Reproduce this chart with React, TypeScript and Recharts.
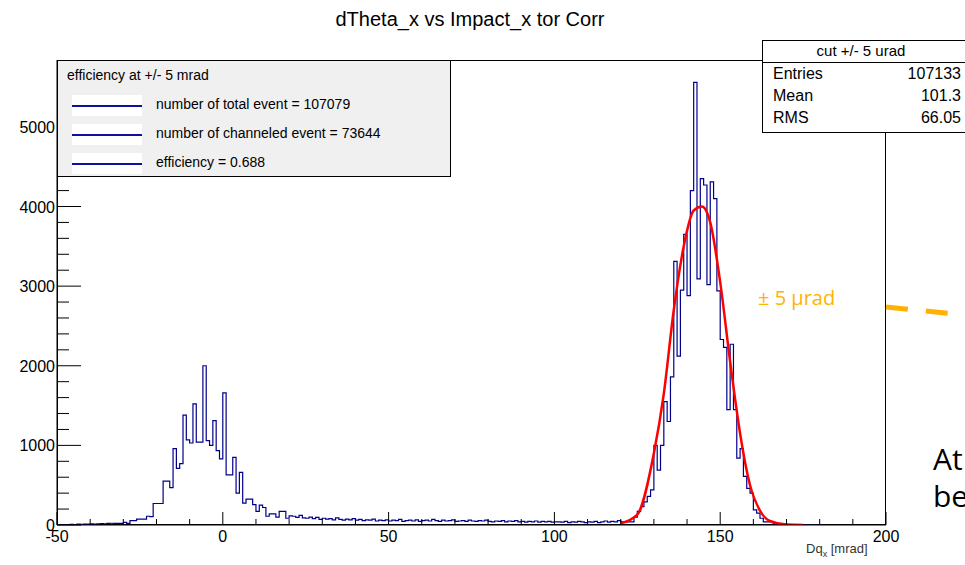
import React from "react";
import { ComposedChart, Line, XAxis, YAxis } from "recharts";

const leftTail = [3, 5, 4, 6, 8, 5, 10, 8, 12, 10, 14, 12, 15, 18, 16, 20, 22];
const leftPeak = [20, 20, 20, 33, 20, 55, 55, 75, 75, 75, 110, 105, 270, 270, 270, 550, 550, 470, 960, 710, 770, 1380, 1070, 1030, 1520, 1040, 1040, 2000, 1060, 1000, 1310, 935, 830, 1660, 630, 630, 850, 400, 660, 275, 325, 325, 255, 170, 250, 220, 110, 140, 140, 100, 170, 170, 85, 115];
const midTail = [110, 95, 120, 90, 85, 100, 80, 95, 70, 85, 75, 80, 65, 90, 70, 60, 75, 65, 80, 60, 70, 55, 65, 60, 75, 50, 60, 55, 65, 50, 60, 55, 70, 45, 55, 60, 50, 65, 45, 55, 60, 50, 70, 55, 45, 60, 50, 55, 65, 45, 50, 55, 45, 60, 50, 45, 55, 50, 60, 45, 40, 50, 45, 55, 40, 50, 45, 55, 40, 45, 35, 45, 40, 50, 35, 45, 40, 45, 35, 40, 40, 35, 45, 30, 40, 35, 45, 40, 30, 40, 35, 45, 30, 40, 50, 35, 45, 40, 55];
const rightPeak = [40, 40, 40, 40, 100, 170, 230, 290, 360, 440, 1000, 690, 1000, 1550, 1300, 1860, 3310, 2120, 2950, 3650, 2880, 4200, 5560, 3090, 4350, 4270, 3020, 4310, 4100, 2940, 2330, 2230, 1450, 2270, 1450, 840, 960, 610, 460, 400, 190, 150, 85, 40, 40, 40, 15];
const rightTail = [10, 8, 5, 5, 3, 3, 2, 2, 1, 1, 0, 0, 0, 0];

const fitX = [120, 125, 130, 133, 136, 139, 142, 144.5, 147, 150, 153, 156, 159, 162, 165, 170, 175];
const fitY = [20, 130, 900, 1650, 2700, 3500, 3950, 4000, 3800, 3050, 2050, 1150, 500, 180, 50, 5, 0];

const xTicks = [-50, -40, -30, -20, -10, 0, 10, 20, 30, 40, 50, 60, 70, 80, 90, 100, 110, 120, 130, 140, 150, 160, 170, 180, 190, 200];
const yTicks = Array.from({ length: 28 }, (_, i) => i * 200);

const allVals = [...leftTail, ...leftPeak, ...midTail, ...rightPeak, ...rightTail];
const hist = allVals.map((v, i) => ({ x: -50 + i, v }));
hist.push({ x: -50 + allVals.length, v: 0 });
const fit = fitX.map((x, i) => ({ x, f: fitY[i] }));

const FONT = "'Liberation Sans', Arial, sans-serif";

const XTick = (p: any) => {
  const val = p.payload.value;
  const major = val % 50 === 0;
  return (
    <g>
      <line x1={p.x} x2={p.x} y1={p.y} y2={p.y - (major ? 13 : 6)} stroke="#000" />
      {major && (
        <text x={p.x} y={p.y + 17} textAnchor="middle" fontSize={16} fontFamily={FONT} fill="#000">
          {val}
        </text>
      )}
    </g>
  );
};

const YTick = (p: any) => {
  const val = p.payload.value;
  const major = val % 1000 === 0;
  return (
    <g>
      <line x1={p.x} x2={p.x + (major ? 24 : 12)} y1={p.y} y2={p.y} stroke="#000" />
      {major && (
        <text x={p.x - 2} y={p.y + 6} textAnchor="end" fontSize={16} fontFamily={FONT} fill="#000">
          {val}
        </text>
      )}
    </g>
  );
};

const abs = (s: React.CSSProperties): React.CSSProperties => ({ position: "absolute", ...s });

export default function App() {
  return (
    <div style={abs({ left: 0, top: 0, width: 965, height: 565, overflow: "hidden", background: "#fff", fontFamily: FONT })}>
      <div style={abs({ left: 0, top: 8, width: 940, textAlign: "center", fontSize: 20 })}>dTheta_x vs Impact_x tor Corr</div>
      <div style={abs({ left: 57, top: 60, width: 829, height: 465, border: "1px solid #000", boxSizing: "border-box" })} />
      <div style={abs({ left: 0, top: 0 })}>
        <ComposedChart width={965} height={565} margin={{ top: 60, right: 79, bottom: 0, left: 0 }}>
          <XAxis
            dataKey="x"
            type="number"
            domain={[-50, 200]}
            ticks={xTicks}
            allowDataOverflow
            height={40}
            tickSize={0}
            tickMargin={0}
            tick={<XTick />}
            tickLine={false}
            stroke="#000"
            interval={0}
          />
          <YAxis
            type="number"
            domain={[0, 5840]}
            ticks={yTicks}
            allowDataOverflow
            width={57}
            tickSize={0}
            tickMargin={0}
            tick={<YTick />}
            tickLine={false}
            stroke="#000"
            interval={0}
          />
          <Line data={hist} dataKey="v" type="stepAfter" stroke="#00008b" strokeWidth={1.2} dot={false} isAnimationActive={false} />
          <Line data={fit} dataKey="f" type="monotone" stroke="#ff0000" strokeWidth={2.5} dot={false} isAnimationActive={false} />
        </ComposedChart>
      </div>
      <div style={abs({ left: 806, top: 541, fontSize: 13, color: "#333" })}>
        Dq<sub style={{ fontSize: 9 }}>x</sub> [mrad]
      </div>
      <div style={abs({ left: 57, top: 60, width: 394, height: 117, background: "#f0f0f0", border: "1px solid #000", boxSizing: "border-box", fontSize: 14 })}>
        <div style={abs({ left: 9, top: 6 })}>efficiency at +/- 5 mrad</div>
        {["number of total event = 107079", "number of channeled event = 73644", "efficiency = 0.688"].map((t, i) => (
          <React.Fragment key={t}>
            <div style={abs({ left: 14, top: 34 + i * 29, width: 70, height: 21, background: "#fff" })}>
              <div style={abs({ left: 0, top: 10, width: 70, height: 1.5, background: "#1010a0" })} />
            </div>
            <div style={abs({ left: 98, top: 35 + i * 29 })}>{t}</div>
          </React.Fragment>
        ))}
      </div>
      <div style={abs({ left: 762, top: 40, width: 210, height: 93, background: "#fff", border: "1px solid #000", boxSizing: "border-box", fontSize: 16 })}>
        <div style={abs({ left: 0, top: 1, width: 210, height: 20, borderBottom: "1px solid #000", textAlign: "center", fontSize: 15 })}>
          <span style={{ marginLeft: -14 }}>cut +/- 5 urad</span>
        </div>
        {[["Entries", "107133"], ["Mean", "101.3"], ["RMS", "66.05"]].map(([a, b], i) => (
          <React.Fragment key={a}>
            <div style={abs({ left: 10, top: 24 + i * 22 })}>{a}</div>
            <div style={abs({ right: 10, top: 24 + i * 22 })}>{b}</div>
          </React.Fragment>
        ))}
      </div>
      <div style={abs({ left: 758, top: 284, fontSize: 20, color: "#ffb300", fontFamily: "'Open Sans', sans-serif" })}>± 5 µrad</div>
      <svg style={abs({ left: 0, top: 0 })} width={965} height={565}>
        <line x1={886} y1={307} x2={965} y2={315} stroke="#ffb300" strokeWidth={5} strokeDasharray="22 18" />
      </svg>
      <div style={abs({ left: 933, top: 440, fontSize: 30, lineHeight: "37px", fontFamily: "'Open Sans', sans-serif" })}>
        At<br />be
      </div>
    </div>
  );
}
